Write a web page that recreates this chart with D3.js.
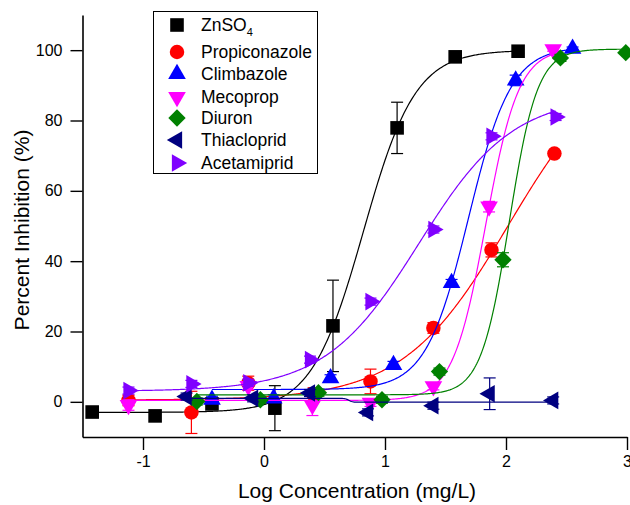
<!DOCTYPE html>
<html>
<head>
<meta charset="utf-8">
<script src="https://cdn.jsdelivr.net/npm/d3@7"></script>
<style>
    body { margin: 0; background: #fff; }
    svg text { font-family: "Liberation Sans", Arial, sans-serif; fill: #000; }
</style>
</head>
<body>
<div id="chart"></div>
<script>
// DATA ---------------------------------------------------------------------
const seriesNames = ['ZnSO4', 'Propiconazole', 'Climbazole', 'Mecoprop', 'Diuron', 'Thiacloprid', 'Acetamiprid'];

const zincX = [-1.42, -0.90, -0.43, 0.09, 0.57, 1.10, 1.58, 2.10];
const zincY = [-2.9, -4.0, -0.6, -1.8, 21.6, 77.9, 98.1, 99.7];
const zincErr = [0.8, 0.6, 1.0, 6.4, 13.0, 7.3, 0.8, 0.6];

const propiX = [-1.12, -0.60, -0.13, 0.41, 0.88, 1.40, 1.88, 2.40];
const propiY = [0.4, -3.0, 5.3, 2.0, 5.8, 21.0, 43.2, 70.6];
const propiErr = [1.5, 6.0, 2.0, 2.0, 3.5, 1.5, 2.0, 0.8];

const climbX = [-0.43, 0.08, 0.55, 1.07, 1.55, 2.08, 2.55];
const climbY = [0.6, 1.0, 6.7, 10.5, 33.8, 91.4, 100.4];
const climbErr = [1.0, 1.0, 1.0, 1.0, 1.0, 1.5, 0.5];

const mecoX = [-1.12, -0.13, 0.40, 0.88, 1.40, 1.86, 2.39];
const mecoY = [-0.9, 4.5, -0.9, -0.3, 4.4, 55.5, 100.2];
const mecoErr = [1.5, 1.0, 3.0, 1.0, 1.0, 1.5, 0.5];

const diuronX = [-0.555, -0.03, 0.45, 0.975, 1.45, 1.975, 2.45, 2.99];
const diuronY = [0.1, 0.6, 2.6, 0.6, 8.6, 40.4, 97.8, 99.3];
const diuronErr = [1.0, 1.0, 1.0, 1.0, 1.0, 2.0, 1.0, 0.5];

const thiaX = [-0.64, -0.09, 0.38, 0.86, 1.40, 1.865, 2.39];
const thiaY = [1.5, 1.0, 2.5, -3.0, -1.1, 2.3, 0.4];
const thiaErr = [1.0, 1.0, 1.0, 1.0, 1.0, 4.5, 1.0];

const acetX = [-1.12, -0.60, -0.13, 0.38, 0.88, 1.40, 1.88, 2.41];
const acetY = [3.2, 5.1, 5.4, 12.0, 28.5, 49.0, 75.5, 81.0];
const acetErr = [1.0, 1.0, 1.0, 1.0, 1.0, 1.0, 1.0, 1.0];

// fitted dose-response curves: [bottom, top, logEC50, hill slope]
const zincFit = [-3.0, 100.0, 0.822, 2.02];
const propiFit = [0.5, 100.0, 2.02, 1.0];
const climbFit = [3.5, 101.0, 1.69, 2.47];
const mecoFit = [0.4, 100.5, 1.833, 3.19];
const diuronFit = [2.0, 100.3, 2.027, 3.74];
const thiaFit = [1.0, -0.1, 0.70, 30];
const acetFit = [3.0, 87.0, 1.28, 1.12];

const xTicks = [-1, 0, 1, 2, 3];
const xMinorTicks = [-1.5, -0.5, 0.5, 1.5, 2.5];
const yTicks = [0, 20, 40, 60, 80, 100];
const yMinorTicks = [-10, 10, 30, 50, 70, 90, 110];
// DATA ---------------------------------------------------------------------

// STYLE ---------------------------------------------------------------------
const colors = ['#000000', '#ff0000', '#0000ff', '#ff00ff', '#008000', '#000080', '#8000ff'];
const width = 630, height = 505;
const margins = {left: 82.5, right: 3, top: 15, bottom: 68};

const series = [
    {x: zincX, y: zincY, err: zincErr, fit: zincFit, shape: 'square'},
    {x: propiX, y: propiY, err: propiErr, fit: propiFit, shape: 'circle'},
    {x: climbX, y: climbY, err: climbErr, fit: climbFit, shape: 'up'},
    {x: mecoX, y: mecoY, err: mecoErr, fit: mecoFit, shape: 'down'},
    {x: diuronX, y: diuronY, err: diuronErr, fit: diuronFit, shape: 'diamond'},
    {x: thiaX, y: thiaY, err: thiaErr, fit: thiaFit, shape: 'left'},
    {x: acetX, y: acetY, err: acetErr, fit: acetFit, shape: 'right'},
].map((s, i) => ({...s, name: seriesNames[i], color: colors[i]}));
// STYLE ---------------------------------------------------------------------

const svg = d3.select('#chart').append('svg')
    .attr('width', width)
    .attr('height', height);

const xScale = d3.scaleLinear().domain([-1.5, 3]).range([margins.left, width - margins.right]);
const yScale = d3.scaleLinear().domain([-10, 110]).range([height - margins.bottom, margins.top]);

//AXES
const xAxisY = yScale(-10);
const gx = svg.append('g').attr('transform', `translate(0,${xAxisY})`);
gx.call(d3.axisBottom(xScale).tickValues(xMinorTicks).tickSize(6).tickSizeOuter(0).tickFormat(''));
gx.call(d3.axisBottom(xScale).tickValues(xTicks).tickSize(13).tickSizeOuter(0).tickPadding(6).tickFormat(d3.format('d')));

const gy = svg.append('g').attr('transform', `translate(${margins.left},0)`);
gy.call(d3.axisLeft(yScale).tickValues(yMinorTicks).tickSize(6).tickSizeOuter(0).tickFormat(''));
gy.call(d3.axisLeft(yScale).tickValues(yTicks).tickSize(12).tickSizeOuter(0).tickPadding(8));

svg.selectAll('.domain').attr('stroke', '#000').attr('stroke-width', 1.6);
svg.selectAll('.tick line').attr('stroke', '#000').attr('stroke-width', 1.4);
svg.selectAll('.tick text').style('font-size', '16px').text(function(){ return this.textContent.replace('−', '-'); });

svg.append('text')
    .attr('x', 357).attr('y', 498)
    .attr('text-anchor', 'middle')
    .style('font-size', '21px')
    .text('Log Concentration (mg/L)');

svg.append('text')
    .attr('transform', 'translate(29,230) rotate(-90)')
    .attr('text-anchor', 'middle')
    .style('font-size', '21px')
    .text('Percent Inhibition (%)');

//SYMBOLS
const symbolPath = (shape) => {
    switch(shape){
        case 'square': return {d: d3.symbol(d3.symbolSquare, 185)(), rot: 0};
        case 'circle': return {d: d3.symbol(d3.symbolCircle, 165)(), rot: 0};
        case 'diamond': return {d: d3.symbol(d3.symbolSquare, 150)(), rot: 45};
        case 'up': return {d: d3.symbol(d3.symbolTriangle, 135)(), rot: 0};
        case 'down': return {d: d3.symbol(d3.symbolTriangle, 135)(), rot: 180};
        case 'left': return {d: d3.symbol(d3.symbolTriangle, 135)(), rot: -90};
        case 'right': return {d: d3.symbol(d3.symbolTriangle, 135)(), rot: 90};
    }
};

const curve = (fit) => (x) => fit[0] + (fit[1] - fit[0]) / (1 + Math.pow(10, (fit[2] - x) * fit[3]));

const line = d3.line().x(d => xScale(d[0])).y(d => yScale(d[1]));
const plot = svg.append('g');

series.forEach((s) => {
    const g = plot.append('g').attr('class', 'series');
    const f = curve(s.fit);
    const x0 = d3.min(s.x), x1 = d3.max(s.x);
    const pts = d3.range(0, 401).map(i => {
        const x = x0 + (x1 - x0) * i / 400;
        return [x, f(x)];
    });
    g.append('path')
        .attr('d', line(pts))
        .attr('fill', 'none')
        .attr('stroke', s.color)
        .attr('stroke-width', 1.2);

    const pd = s.x.map((x, i) => ({x, y: s.y[i], e: s.err[i]}));
    const eb = g.selectAll('.err').data(pd).enter().append('g').attr('stroke', s.color).attr('stroke-width', 1.2);
    eb.append('line')
        .attr('x1', d => xScale(d.x)).attr('x2', d => xScale(d.x))
        .attr('y1', d => yScale(d.y - d.e)).attr('y2', d => yScale(d.y + d.e));
    [-1, 1].forEach(sign => {
        eb.append('line')
            .attr('x1', d => xScale(d.x) - 6).attr('x2', d => xScale(d.x) + 6)
            .attr('y1', d => yScale(d.y + sign * d.e)).attr('y2', d => yScale(d.y + sign * d.e));
    });

    const sym = symbolPath(s.shape);
    g.selectAll('.pt').data(pd).enter().append('path')
        .attr('d', sym.d)
        .attr('fill', s.color)
        .attr('transform', d => `translate(${xScale(d.x)},${yScale(d.y)}) rotate(${sym.rot})`);
});

//LEGEND
const legend = svg.append('g');
legend.append('rect')
    .attr('x', 153.5).attr('y', 11.5).attr('width', 164).attr('height', 162)
    .attr('fill', '#fff').attr('stroke', '#000').attr('stroke-width', 1);

const legendRows = [25, 52, 74, 97, 118, 140, 163];
series.forEach((s, i) => {
    const sym = symbolPath(s.shape);
    legend.append('path')
        .attr('d', sym.d)
        .attr('fill', s.color)
        .attr('transform', `translate(177,${legendRows[i]}) rotate(${sym.rot})`);
    const t = legend.append('text')
        .attr('x', 201).attr('y', legendRows[i] + 6)
        .style('font-size', '17.5px');
    if (s.name === 'ZnSO4'){
        t.append('tspan').text('ZnSO');
        t.append('tspan').attr('dy', 5).style('font-size', '11px').text('4');
    } else {
        t.text(s.name);
    }
});
</script>
</body>
</html>
